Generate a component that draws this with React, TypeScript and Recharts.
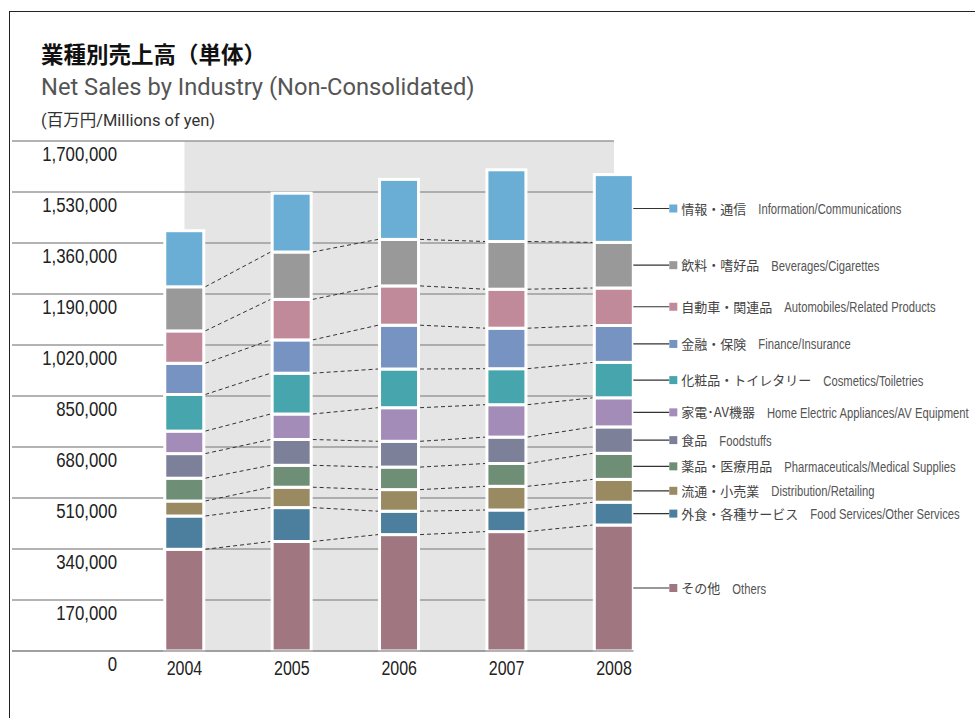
import React from 'react';
import { BarChart, Bar, XAxis, YAxis, CartesianGrid, ReferenceArea, ReferenceLine } from 'recharts';

// ---- data (millions of yen) ----
const YEARS = [2004, 2005, 2006, 2007, 2008];
const OTHERS = [339000, 365000, 388000, 398000, 420000];
const FOOD_SERVICES = [111000, 113000, 78000, 72000, 76000];
const DISTRIBUTION = [50000, 68000, 72000, 79000, 76000];
const PHARMA = [76000, 73000, 75000, 76000, 87000];
const FOODSTUFFS = [82000, 86000, 86000, 88000, 88000];
const HOME_ELECTRIC = [75000, 85000, 112000, 108000, 97000];
const COSMETICS = [122000, 136000, 129000, 120000, 118000];
const FINANCE = [104000, 111000, 146000, 135000, 123000];
const AUTOMOBILES = [108000, 135000, 131000, 130000, 125000];
const BEVERAGES = [147000, 158000, 155000, 159000, 152000];
const INFORMATION = [187000, 196000, 200000, 239000, 226000];
const Y_TICKS = [0, 170000, 340000, 510000, 680000, 850000, 1020000, 1190000, 1360000, 1530000, 1700000];

const SERIES = [
  { key: 'others', values: OTHERS, color: '#a07681', ja: 'その他', en: 'Others' },
  { key: 'foodServices', values: FOOD_SERVICES, color: '#4c7f9e', ja: '外食・各種サービス', en: 'Food Services/Other Services' },
  { key: 'distribution', values: DISTRIBUTION, color: '#9a8a62', ja: '流通・小売業', en: 'Distribution/Retailing' },
  { key: 'pharma', values: PHARMA, color: '#6e8e75', ja: '薬品・医療用品', en: 'Pharmaceuticals/Medical Supplies' },
  { key: 'foodstuffs', values: FOODSTUFFS, color: '#7d8099', ja: '食品', en: 'Foodstuffs' },
  { key: 'homeElectric', values: HOME_ELECTRIC, color: '#a48cb8', ja: '家電･AV機器', en: 'Home Electric Appliances/AV Equipment' },
  { key: 'cosmetics', values: COSMETICS, color: '#47a5ae', ja: '化粧品・トイレタリー', en: 'Cosmetics/Toiletries' },
  { key: 'finance', values: FINANCE, color: '#7693c2', ja: '金融・保険', en: 'Finance/Insurance' },
  { key: 'automobiles', values: AUTOMOBILES, color: '#c18a9a', ja: '自動車・関連品', en: 'Automobiles/Related Products' },
  { key: 'beverages', values: BEVERAGES, color: '#999999', ja: '飲料・嗜好品', en: 'Beverages/Cigarettes' },
  { key: 'information', values: INFORMATION, color: '#6aaed6', ja: '情報・通信', en: 'Information/Communications' },
];

const data = YEARS.map((year, i) => {
  const row: any = { year };
  SERIES.forEach((s) => { row[s.key] = s.values[i]; });
  return row;
});

// ---- layout ----
const W = 975;
const H = 718;
const PLOT_LEFT = 12;
const PLOT_RIGHT = 614;
const PLOT_TOP = 141;
const PLOT_BOTTOM = 651;
const X_MIN = 2002.394;
const X_MAX = 2008;
const PX_PER_YEAR = (PLOT_RIGHT - PLOT_LEFT) / (X_MAX - X_MIN);
const BAR_SIZE = 39;
const BASELINE_END = X_MAX + (BAR_SIZE / 2) / PX_PER_YEAR;

const SANS = "'Liberation Sans', Arial, sans-serif";
const CJK = "'Noto Sans CJK JP', 'Noto Sans', sans-serif";
const JA_SIZE = 13;

let measureCtx: any = null;
const measure = (txt: string, font: string) => {
  try {
    if (!measureCtx) measureCtx = document.createElement('canvas').getContext('2d');
    measureCtx.font = font;
    return measureCtx.measureText(txt).width;
  } catch (e) {
    return txt.length * JA_SIZE;
  }
};

// condensed text: regular sans squeezed horizontally
const NText = ({ x, y, size, fill, anchor = 'start', sx = 0.82, children }: any) => (
  <text transform={`translate(${x},${y}) scale(${sx},1)`} x={0} y={0} textAnchor={anchor}
    fontSize={size} fontFamily={SANS} fill={fill}>
    {children}
  </text>
);

const cumTop = (i: number, k: number) => {
  let s = 0;
  for (let j = 0; j <= k; j++) s += SERIES[j].values[i];
  return s;
};

const makeShape = (k: number) => (props: any) => {
  const { x, y, width, height, index } = props;
  const s = SERIES[k];
  const value = s.values[index];
  const pxPerUnit = value ? height / value : 0;
  const els: any[] = [];
  els.push(
    <rect key="r" x={x} y={y} width={width} height={height} fill={s.color} stroke="#ffffff" strokeWidth={3} />
  );
  if (k < SERIES.length - 1 && index < YEARS.length - 1) {
    const yNext = y + (cumTop(index, k) - cumTop(index + 1, k)) * pxPerUnit;
    els.push(
      <line key="c" x1={x + width + 1.5} y1={y} x2={x + PX_PER_YEAR - 1.5} y2={yNext}
        stroke="#333" strokeWidth={1} strokeDasharray="4 3" />
    );
  }
  if (index === YEARS.length - 1) {
    const mid = y + height / 2;
    const r = x + width;
    const jaW = measure(s.ja, `${JA_SIZE}px "Noto Sans CJK JP"`);
    els.push(<line key="l" x1={r} y1={mid} x2={r + 36} y2={mid} stroke="#333" strokeWidth={1.2} />);
    els.push(<rect key="m" x={r + 36} y={mid - 4} width={8} height={8} fill={s.color} />);
    els.push(
      <text key="t" x={r + 48} y={mid + 5} fontSize={JA_SIZE} fontFamily={CJK} fill="#444">{s.ja}</text>
    );
    els.push(
      <NText key="e" x={r + 48 + jaW + 12} y={mid + 5.5} size={15} sx={0.75} fill="#555">{s.en}</NText>
    );
  }
  return <g>{els}</g>;
};

const YTick = (props: any) => {
  const { y, payload } = props;
  return (
    <NText x={117} y={y + 20} anchor="end" size={20.5} fill="#222">
      {Number(payload.value).toLocaleString('en-US')}
    </NText>
  );
};

const XTick = (props: any) => {
  const { x, payload } = props;
  return (
    <NText x={x} y={PLOT_BOTTOM + 24} anchor="middle" size={19.5} fill="#222">
      {payload.value}
    </NText>
  );
};

export default function App() {
  return (
    <div style={{ position: 'absolute', left: 0, top: 0, width: W, height: H, background: '#fff', overflow: 'hidden' }}>
      <div style={{ position: 'absolute', left: 9, top: 11, width: 1200, height: 1000, borderLeft: '1.5px solid #222', borderTop: '1.5px solid #222' }} />
      <svg width={W} height={140} style={{ position: 'absolute', left: 0, top: 0 }}>
        <text x={41} y={63} fontSize={22.5} fontWeight={700} fontFamily={CJK} fill="#111">業種別売上高（単体）</text>
        <text x={41} y={95} fontSize={23.7} fontFamily="Roboto, sans-serif" fill="#555">Net Sales by Industry (Non-Consolidated)</text>
        <text x={41} y={126} fontSize={16.5} fontFamily="Roboto, 'Noto Sans CJK JP', sans-serif" fill="#333">(百万円/Millions of yen)</text>
      </svg>
      <div style={{ position: 'absolute', left: 0, top: 0 }}>
        <BarChart
          width={W}
          height={H}
          data={data}
          margin={{ top: PLOT_TOP, right: W - PLOT_RIGHT, bottom: H - PLOT_BOTTOM - 30, left: PLOT_LEFT - 1 }}
        >
          <ReferenceArea x1={2004} x2={2008} y1={0} y2={1700000} fill="#e5e5e5" fillOpacity={1} stroke="none" zIndex={-200} ifOverflow="visible" />
          <CartesianGrid horizontal vertical={false} stroke="#9a9a9a" strokeWidth={1.6} />
          <XAxis type="number" dataKey="year" domain={[X_MIN, X_MAX]} ticks={YEARS}
            axisLine={false} tickLine={false} tick={<XTick />} height={30} interval={0} />
          <YAxis type="number" domain={[0, 1700000]} ticks={Y_TICKS} width={1} axisLine={false} tickLine={false} tick={<YTick />} interval={0} />
          {SERIES.map((s, k) => (
            <Bar key={s.key} dataKey={s.key} stackId="a" fill={s.color} barSize={BAR_SIZE}
              isAnimationActive={false} shape={makeShape(k)} />
          ))}
          <ReferenceLine segment={[{ x: X_MIN, y: 0 }, { x: BASELINE_END, y: 0 }]} stroke="#9a9a9a" strokeWidth={1.6}
            ifOverflow="visible" zIndex={400} />
        </BarChart>
      </div>
    </div>
  );
}
